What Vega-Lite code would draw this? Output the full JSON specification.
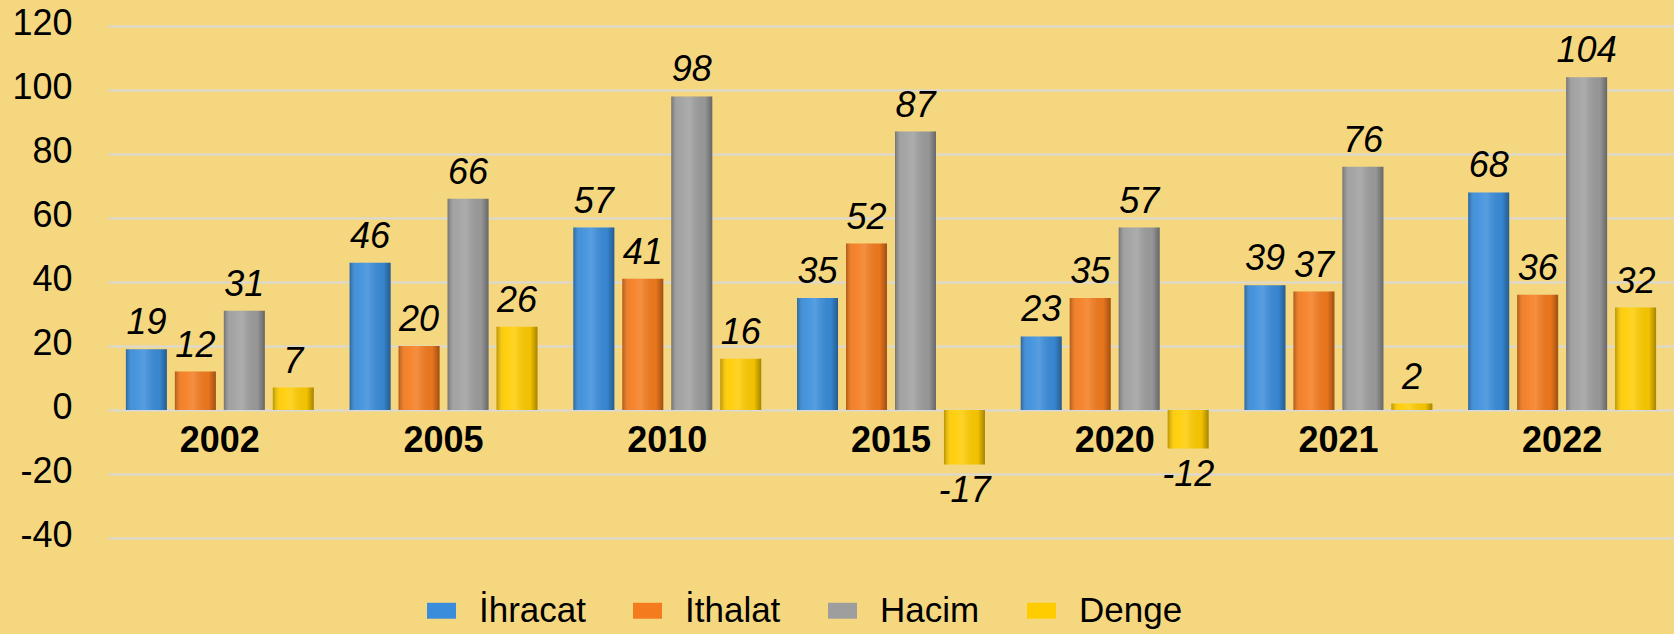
{
  "$schema": "https://vega.github.io/schema/vega-lite/v6.json",
  "width": 1566,
  "height": 512,
  "autosize": "none",
  "padding": {"left": 108, "top": 26, "right": 0, "bottom": 96},
  "background": "#F5D77F",
  "config": {"view": {"stroke": null}, "font": "Liberation Sans"},
  "data": {"values": [
    {"year": "2002", "series": "İhracat", "value": 19},
    {"year": "2002", "series": "İthalat", "value": 12},
    {"year": "2002", "series": "Hacim", "value": 31},
    {"year": "2002", "series": "Denge", "value": 7},
    {"year": "2005", "series": "İhracat", "value": 46},
    {"year": "2005", "series": "İthalat", "value": 20},
    {"year": "2005", "series": "Hacim", "value": 66},
    {"year": "2005", "series": "Denge", "value": 26},
    {"year": "2010", "series": "İhracat", "value": 57},
    {"year": "2010", "series": "İthalat", "value": 41},
    {"year": "2010", "series": "Hacim", "value": 98},
    {"year": "2010", "series": "Denge", "value": 16},
    {"year": "2015", "series": "İhracat", "value": 35},
    {"year": "2015", "series": "İthalat", "value": 52},
    {"year": "2015", "series": "Hacim", "value": 87},
    {"year": "2015", "series": "Denge", "value": -17},
    {"year": "2020", "series": "İhracat", "value": 23},
    {"year": "2020", "series": "İthalat", "value": 35},
    {"year": "2020", "series": "Hacim", "value": 57},
    {"year": "2020", "series": "Denge", "value": -12},
    {"year": "2021", "series": "İhracat", "value": 39},
    {"year": "2021", "series": "İthalat", "value": 37},
    {"year": "2021", "series": "Hacim", "value": 76},
    {"year": "2021", "series": "Denge", "value": 2},
    {"year": "2022", "series": "İhracat", "value": 68},
    {"year": "2022", "series": "İthalat", "value": 36},
    {"year": "2022", "series": "Hacim", "value": 104},
    {"year": "2022", "series": "Denge", "value": 32}
  ]},
  "encoding": {
    "x": {
      "field": "year", "type": "nominal", "sort": null,
      "scale": {"paddingInner": 0.16, "paddingOuter": 0.08},
      "axis": {
        "orient": "bottom", "offset": -128, "title": null, "domain": false, "ticks": false, "grid": false,
        "labelAngle": 0, "labelFontSize": 36, "labelFontWeight": "bold", "labelColor": "#000000",
        "labelBaseline": "middle", "labelPadding": 30, "labelFont": "Liberation Sans"
      }
    },
    "xOffset": {
      "field": "series", "type": "nominal",
      "sort": ["İhracat", "İthalat", "Hacim", "Denge"],
      "scale": {"paddingInner": 0.163, "paddingOuter": 0}
    },
    "y": {
      "field": "value", "type": "quantitative",
      "scale": {"domain": [-40, 120], "nice": false},
      "axis": {
        "title": null, "domain": false, "ticks": false, "tickSize": 0,
        "values": [-40, -20, 0, 20, 40, 60, 80, 100, 120],
        "labelExpr": "replace(datum.label, '\u2212', '-')",
        "grid": true, "gridColor": "#D9D9D9", "gridWidth": 2,
        "labelFontSize": 36, "labelColor": "#000000", "labelPadding": 36, "labelOffset": -3,
        "labelFont": "Liberation Sans"
      }
    }
  },
  "layer": [
    {
      "mark": {"type": "bar"},
      "encoding": {
        "color": {
          "field": "series", "type": "nominal",
          "scale": {
            "domain": ["İhracat", "İthalat", "Hacim", "Denge"],
            "range": ["#3A8DDB", "#F47B1E", "#9E9E9E", "#FFCC00"]
          },
          "legend": {
            "title": null, "orient": "none", "direction": "horizontal",
            "legendX": 316, "legendY": 567,
            "symbolType": "M-1,-0.55H1V0.55H-1Z", "symbolSize": 841, "symbolStrokeWidth": 0,
            "symbolStrokeColor": "#00000000", "symbolOpacity": 1,
            "labelFontSize": 35, "labelColor": "#000000", "labelOffset": 20,
            "columnPadding": 44, "labelFont": "Liberation Sans"
          }
        }
      }
    },
    {
      "mark": {
        "type": "bar",
        "fill": {
          "gradient": "linear", "x1": 0, "y1": 0, "x2": 1, "y2": 0,
          "stops": [
            {"offset": 0, "color": "rgba(0,0,0,0.28)"},
            {"offset": 0.18, "color": "rgba(255,255,255,0.05)"},
            {"offset": 0.45, "color": "rgba(255,255,255,0.15)"},
            {"offset": 0.82, "color": "rgba(0,0,0,0.05)"},
            {"offset": 1, "color": "rgba(0,0,0,0.35)"}
          ]
        }
      },
      "encoding": {}
    },
    {
      "transform": [{"filter": "datum.value >= 0"}],
      "mark": {"type": "text", "fontStyle": "italic", "fontSize": 36, "baseline": "alphabetic", "dy": -15, "color": "#000000", "font": "Liberation Sans"},
      "encoding": {"text": {"field": "value", "type": "nominal"}}
    },
    {
      "transform": [{"filter": "datum.value < 0"}],
      "mark": {"type": "text", "fontStyle": "italic", "fontSize": 36, "baseline": "alphabetic", "dy": 38, "color": "#000000", "font": "Liberation Sans"},
      "encoding": {"text": {"field": "value", "type": "nominal"}}
    }
  ]
}
